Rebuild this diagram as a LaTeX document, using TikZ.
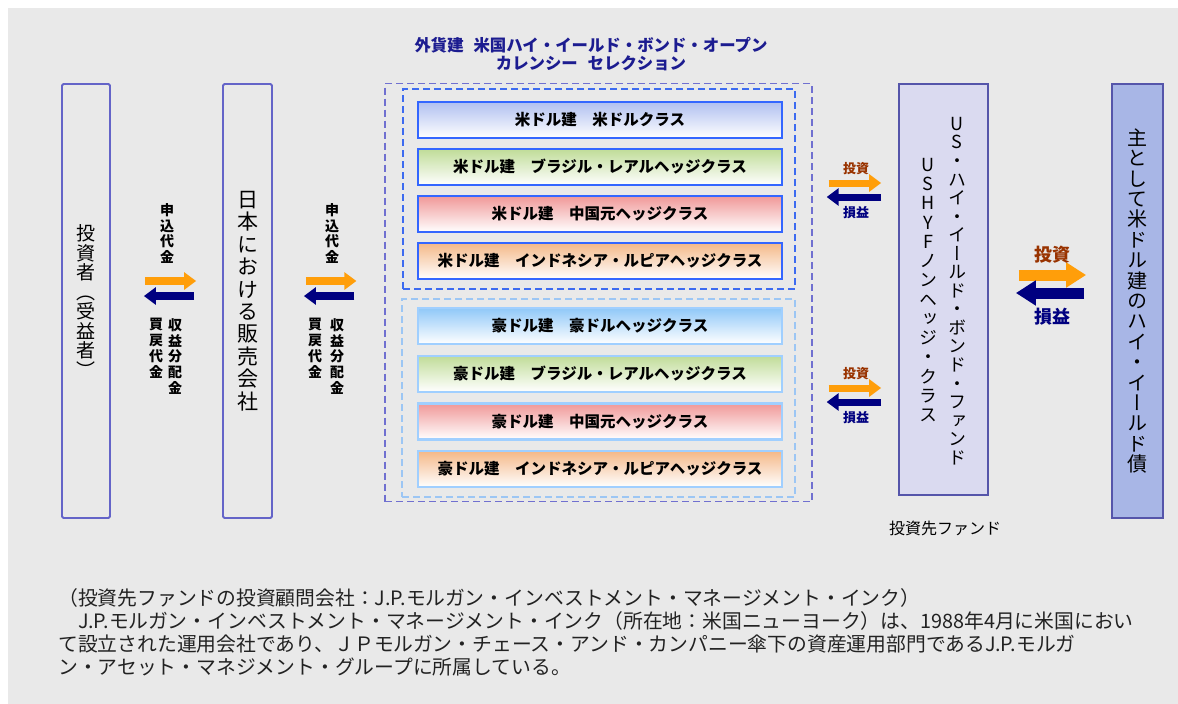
\documentclass[tikz,border=0pt]{standalone}
\usepackage{fontspec}
\setmainfont{Noto Sans CJK JP}
\newfontfamily\tatefont[RawFeature=+vert]{Noto Sans CJK JP}
\usepackage{xcolor}
\usetikzlibrary{calc,arrows.meta}

\definecolor{bggray}{HTML}{E9E9E9}
\definecolor{framecol}{HTML}{6464C8}
\definecolor{arrowor}{HTML}{FF9E0A}
\definecolor{arrownv}{HTML}{000080}
\definecolor{labbrown}{HTML}{993300}
\definecolor{titlecol}{HTML}{1C1C90}
\definecolor{outerdash}{HTML}{7070D0}
\definecolor{grpAdash}{HTML}{3D6BF0}
\definecolor{grpBdash}{HTML}{9CC6F4}
\definecolor{clsedgeA}{HTML}{3366FF}
\definecolor{clsedgeB}{HTML}{A0CFFF}
\definecolor{clsblue}{HTML}{B0C0F0}
\definecolor{clssky}{HTML}{90C8F8}
\definecolor{clsgreen}{HTML}{C0DC98}
\definecolor{clspink}{HTML}{F09898}
\definecolor{clspeach}{HTML}{F4B888}
\definecolor{fundfill}{HTML}{DADAF0}
\definecolor{bondfill}{HTML}{A8B6E6}
\definecolor{textcol}{HTML}{222222}

% vertical text, one character per line
\newcommand{\tate}[2][1]{\vbox{\tatefont\baselineskip=#1em\lineskiplimit=-100pt\tateloop#2\relax}}
\def\tateloop#1{\ifx\relax#1\else\hbox to 1em{\hss#1\hss}\expandafter\tateloop\fi}

\begin{document}
\begin{tikzpicture}[x=1pt, y=-1pt,
  frame/.style={draw=framecol, line width=1.8pt, rounded corners=1.5pt, inner sep=0pt},
  upcls/.style={draw=clsedgeA, line width=2.4pt, bottom color=white, minimum width=364pt, minimum height=36pt, inner sep=0pt, font=\bfseries\fontsize{15.5}{16}\selectfont},
  locls/.style={upcls, draw=clsedgeB},
  grpbox/.style={line width=1.3pt, dash pattern=on 7pt off 4pt, inner sep=0pt},
  bigor/.style={draw=arrowor, line width=11pt, -{Triangle[length=20pt,width=24pt]}},
  bignv/.style={draw=arrownv, line width=11pt, -{Triangle[length=20pt,width=24pt]}},
  orarrow/.style={draw=arrowor, line width=8pt, -{Triangle[length=12pt,width=17pt]}},
  nvarrow/.style={draw=arrownv, line width=8pt, -{Triangle[length=12pt,width=17pt]}},
  smalllab/.style={inner sep=0pt, font=\bfseries\fontsize{14}{14}\selectfont},
]
\fill[white] (0,0) rectangle (1178,704);
\fill[bggray] (8,8) rectangle (1178,704);
\useasboundingbox (0,0) rectangle (1178,704);

% Investor and seller
\node[frame, minimum width=48pt, minimum height=434pt, font=\fontsize{19}{19}\selectfont] (inv) at (86,301) {\tate[1.03]{投資者（受益者）}};
\node[frame, minimum width=49pt, minimum height=434pt, font=\fontsize{21}{21}\selectfont] (sell) at (247.5,301) {\tate[1.07]{日本における販売会社}};

% Fund family
\node[text=titlecol, align=center, font=\bfseries\fontsize{16.4}{18}\selectfont] (title) at (591,54) {外貨建\hspace{0.6em}米国ハイ・イールド・ボンド・オープン\\カレンシー\hspace{0.6em}セレクション};
\node[grpbox, draw=outerdash, minimum width=427pt, minimum height=418pt] (outer) at (598.5,292.5) {};
\node[grpbox, draw=grpAdash, minimum width=392pt, minimum height=200pt] (grpA) at (599,189) {};
\node[grpbox, draw=grpBdash, minimum width=393pt, minimum height=198pt] (grpB) at (598.5,398) {};

\foreach \i/\c/\t in {1/clsblue/{米ドル建　米ドルクラス},
                      2/clsgreen/{米ドル建　ブラジル・レアルヘッジクラス},
                      3/clspink/{米ドル建　中国元ヘッジクラス},
                      4/clspeach/{米ドル建　インドネシア・ルピアヘッジクラス}} {
    \node[upcls, top color=\c] (A\i) at (600,73+47*\i) {\t};
}
\foreach \i/\c/\t in {1/clssky/{豪ドル建　豪ドルヘッジクラス},
                      2/clsgreen/{豪ドル建　ブラジル・レアルヘッジクラス},
                      3/clspink/{豪ドル建　中国元ヘッジクラス},
                      4/clspeach/{豪ドル建　インドネシア・ルピアヘッジクラス}} {
    \node[locls, top color=\c] (B\i) at (600,278.3+47.7*\i) {\t};
}

% Investment fund and bonds
\node[frame, draw=framecol!85!black, fill=fundfill, rounded corners=0pt, minimum width=89pt, minimum height=411pt] (fund) at (943.5,289.5) {};
\node[font=\fontsize{18}{18}\selectfont] (fundR) at (957,291) {\tate[1.03]{US・ハイ・イールド・ボンド・ファンド}};
\node[font=\fontsize{18}{18}\selectfont] (fundL) at (928,290) {\tate[1.07]{USHYFノンヘッジ・クラス}};
\node[font=\fontsize{16}{16}\selectfont] (fundlab) at (945,528) {投資先ファンド};
\node[frame, draw=framecol!85!black, fill=bondfill, rounded corners=0pt, minimum width=51pt, minimum height=434pt, font=\fontsize{20}{20}\selectfont] (bond) at (1137.5,301) {\tate[1.02]{主として米ドル建のハイ・イールド債}};

% Arrows investor <-> seller
\draw[orarrow] ($(inv.east)+(34,-20)$) -- ($(sell.west)+(-26,-20)$);
\draw[nvarrow] ($(sell.west)+(-28,-5)$) -- ($(inv.east)+(33,-5)$);
\node[smalllab] (appA) at (167,233.5) {\tate[1.14]{申込代金}};
\node[smalllab, anchor=north] (divA) at (175,318) {\tate[1.14]{収益分配金}};
\node[smalllab, anchor=north] (redA) at (156,318) {\tate[1.14]{買戻代金}};

% Arrows seller <-> fund family
\draw[orarrow] ($(sell.east)+(33,-20)$) -- ($(outer.west|-sell.east)+(-28,-20)$);
\draw[nvarrow] ($(outer.west|-sell.east)+(-30,-5)$) -- ($(sell.east)+(31,-5)$);
\node[smalllab] (appB) at (332,233.5) {\tate[1.14]{申込代金}};
\node[smalllab, anchor=north] (divB) at (337,318) {\tate[1.14]{収益分配金}};
\node[smalllab, anchor=north] (redB) at (315,318) {\tate[1.14]{買戻代金}};

% Arrows fund family <-> fund
\draw[orarrow, line width=7pt] ($(grpA.east-|outer.east)+(16,-6)$) -- ($(grpA.east-|fund.west)+(-17,-6)$);
\draw[nvarrow, line width=7pt] ($(grpA.east-|fund.west)+(-17,8)$) -- ($(grpA.east-|outer.east)+(14,8)$);
\draw[orarrow, line width=7pt] ($(grpB.east-|outer.east)+(16,-10)$) -- ($(grpB.east-|fund.west)+(-17,-10)$);
\draw[nvarrow, line width=7pt] ($(grpB.east-|fund.west)+(-17,4)$) -- ($(grpB.east-|outer.east)+(14,4)$);
\foreach \n/\y in {1/169,2/374} {
    \node[smalllab, text=labbrown, font=\bfseries\fontsize{13}{13}\selectfont] (inv\n) at (856,\y) {投資};
    \node[smalllab, text=arrownv, font=\bfseries\fontsize{13}{13}\selectfont] (pl\n) at (856,\y+44) {損益};
}

% Arrows fund <-> bonds
\draw[bigor] ($(fund.east)+(30,-14.5)$) -- ($(bond.west|-fund.east)+(-25,-14.5)$);
\draw[bignv] ($(bond.west|-fund.east)+(-27,3.5)$) -- ($(fund.east)+(27,3.5)$);
\node[smalllab, text=labbrown, font=\bfseries\fontsize{18}{18}\selectfont] (invC) at (1052,255) {投資};
\node[smalllab, text=arrownv, font=\bfseries\fontsize{18}{18}\selectfont] (plC) at (1052,317) {損益};

% Note
\node[anchor=north west, align=left, inner sep=0pt, text=textcol, font=\fontsize{19.8}{23}\selectfont] (note) at (58,588) {（投資先ファンドの投資顧問会社：J.P.モルガン・インベストメント・マネージメント・インク）\\　J.P.モルガン・インベストメント・マネージメント・インク（所在地：米国ニューヨーク）は、1988年4月に米国におい\\て設立された運用会社であり、ＪＰモルガン・チェース・アンド・カンパニー傘下の資産運用部門であるJ.P.モルガ\\ン・アセット・マネジメント・グループに所属している。};
\end{tikzpicture}
\end{document}
